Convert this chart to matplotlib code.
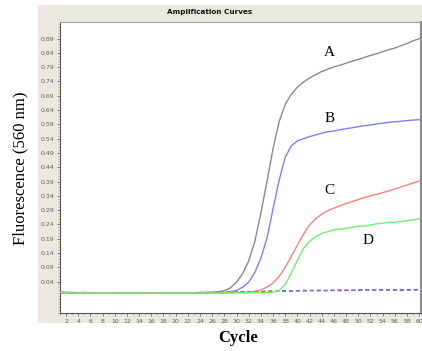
import matplotlib
matplotlib.use("Agg")
import matplotlib.pyplot as plt
import numpy as np
from matplotlib.patches import Rectangle
from matplotlib.ticker import MultipleLocator

# cycle numbers and fluorescence readings
cycles = list(range(1, 61))

curve_a = [0.003, 0.002, 0.002, 0.001, 0.002, 0.001, 0.000, 0.001, 0.000, 0.000,
           0.001, 0.000, -0.001, 0.000, 0.000, -0.001, 0.000, 0.000, 0.001, 0.000,
           0.000, 0.001, 0.001, 0.002, 0.002, 0.003, 0.004, 0.008, 0.018, 0.038,
           0.068, 0.112, 0.18, 0.28, 0.39, 0.505, 0.60, 0.66, 0.695, 0.72,
           0.738, 0.752, 0.764, 0.775, 0.783, 0.791, 0.797, 0.804, 0.811, 0.817,
           0.824, 0.831, 0.837, 0.844, 0.851, 0.857, 0.865, 0.873, 0.882, 0.89]

curve_b = [0.002, 0.002, 0.001, 0.001, 0.000, 0.001, 0.000, -0.001, 0.000, 0.000,
           -0.001, 0.000, 0.000, -0.001, 0.000, 0.000, 0.000, 0.001, 0.000, 0.000,
           0.000, 0.000, 0.001, 0.000, 0.001, 0.001, 0.002, 0.002, 0.004, 0.009,
           0.02, 0.038, 0.072, 0.122, 0.192, 0.295, 0.395, 0.475, 0.515, 0.532,
           0.54, 0.547, 0.553, 0.559, 0.564, 0.567, 0.571, 0.575, 0.578, 0.582,
           0.585, 0.588, 0.591, 0.594, 0.597, 0.599, 0.601, 0.603, 0.605, 0.606]

curve_c = [0.002, 0.001, 0.001, 0.000, 0.001, 0.000, -0.001, 0.000, 0.000, -0.001,
           0.000, 0.000, 0.000, -0.001, 0.000, 0.001, 0.000, 0.000, 0.000, 0.000,
           -0.001, 0.000, 0.000, 0.000, 0.000, 0.001, 0.000, 0.001, 0.001, 0.001,
           0.002, 0.003, 0.005, 0.011, 0.021, 0.035, 0.058, 0.09, 0.128, 0.168,
           0.206, 0.238, 0.26, 0.276, 0.288, 0.297, 0.305, 0.313, 0.32, 0.327,
           0.334, 0.34, 0.345, 0.351, 0.357, 0.364, 0.371, 0.378, 0.385, 0.392]

curve_d = [0.001, 0.001, 0.000, 0.000, -0.001, 0.000, -0.001, 0.000, 0.000, 0.000,
           -0.001, -0.001, 0.000, 0.000, 0.000, 0.000, -0.001, 0.000, 0.000, 0.000,
           0.000, 0.000, 0.000, -0.001, 0.000, 0.000, 0.000, 0.000, 0.000, 0.001,
           0.000, 0.001, 0.001, 0.001, 0.002, 0.003, 0.008, 0.03, 0.07, 0.115,
           0.156, 0.181, 0.197, 0.208, 0.215, 0.221, 0.223, 0.226, 0.23, 0.233,
           0.235, 0.238, 0.242, 0.244, 0.247, 0.247, 0.25, 0.253, 0.256, 0.26]

neg_1 = [0.001, 0.000, 0.001, 0.000, -0.001, 0.000, 0.000, -0.001, 0.000, 0.000,
         -0.001, 0.000, 0.000, 0.000, 0.001, 0.000, -0.001, 0.000, 0.001, 0.000,
         0.000, 0.001, 0.000, 0.001, 0.002, 0.001, 0.002, 0.003, 0.003, 0.004,
         0.005, 0.004, 0.006, 0.005, 0.006, 0.007, 0.006, 0.008, 0.007, 0.008,
         0.009, 0.008, 0.009, 0.010, 0.008, 0.009, 0.011, 0.010, 0.009, 0.011,
         0.012, 0.010, 0.011, 0.012, 0.010, 0.011, 0.012, 0.011, 0.012, 0.012]

neg_2 = [0.000, 0.001, 0.000, -0.001, 0.000, -0.001, 0.000, 0.000, -0.001, 0.000,
         0.000, -0.001, 0.000, 0.001, 0.000, -0.001, 0.000, 0.000, 0.000, 0.001,
         0.000, 0.000, 0.001, 0.000, 0.001, 0.002, 0.001, 0.002, 0.003, 0.003,
         0.004, 0.005, 0.004, 0.005, 0.006, 0.005, 0.007, 0.006, 0.007, 0.008,
         0.007, 0.009, 0.008, 0.007, 0.009, 0.010, 0.008, 0.009, 0.010, 0.009,
         0.010, 0.011, 0.009, 0.010, 0.011, 0.010, 0.009, 0.011, 0.010, 0.011]

curves = [("A", curve_a, "#8a8a8a"), ("B", curve_b, "#7f7fff"),
          ("C", curve_c, "#ff7f7f"), ("D", curve_d, "#6fef6f")]
y_ticks = [0.04, 0.09, 0.14, 0.19, 0.24, 0.29, 0.34, 0.39, 0.44, 0.49,
           0.54, 0.59, 0.64, 0.69, 0.74, 0.79, 0.84, 0.89]
x_ticks = list(range(2, 61, 2))

W, H = 422, 351
fig = plt.figure(figsize=(W / 100, H / 100), dpi=100)

# beige panel behind the plot, like the instrument software window
panel = Rectangle((38 / W, 1 - 323 / H), (W - 38) / W, (323 - 5) / H,
                  transform=fig.transFigure, facecolor="#ece8df",
                  edgecolor="none", zorder=-1)
fig.add_artist(panel)

ax = fig.add_axes([60 / W, 1 - 313 / H, (421 - 60) / W, (313 - 22) / H])
ax.set_zorder(1)
ax.set_facecolor("white")

for name, vals, col in curves:
    ax.plot(cycles, vals, color=col, linewidth=1.0, zorder=3)

ax.plot(cycles, neg_1, color="#c06080", linewidth=1.0, dashes=(3, 2), zorder=2)
ax.plot(cycles, neg_2, color="#7070d0", linewidth=1.0, dashes=(3, 2), zorder=2)

ax.set_xlim(1, 60.3)
ax.set_ylim(-0.07, 0.948)
ax.set_xticks(x_ticks)
ax.set_xticklabels([str(t) for t in x_ticks])
ax.xaxis.set_minor_locator(MultipleLocator(1))
ax.set_yticks(y_ticks)
ax.set_yticklabels(["%.2f" % t for t in y_ticks])
ax.yaxis.set_minor_locator(MultipleLocator(0.01))
ax.tick_params(axis="both", which="major", labelsize=4.5, labelcolor="#606060",
               color="#666666", length=2.5, width=0.6, pad=1.5)
ax.tick_params(axis="both", which="minor", color="#888888", length=1.2, width=0.4)

ax.spines["left"].set_color("#555555")
ax.spines["bottom"].set_color("#555555")
ax.spines["top"].set_color("#9a9a9a")
ax.spines["right"].set_color("#8a8a8a")
ax.spines["right"].set_linewidth(1.5)

# curve letters
serif = ["Liberation Serif", "DejaVu Serif"]
ax.text(45.3, 0.843, "A", family=serif, fontsize=11, ha="center", va="center")
ax.text(45.3, 0.612, "B", family=serif, fontsize=11, ha="center", va="center")
ax.text(45.3, 0.36, "C", family=serif, fontsize=11, ha="center", va="center")
ax.text(51.6, 0.185, "D", family=serif, fontsize=11, ha="center", va="center")

fig.text(210 / W, 1 - 12 / H, "Amplification Curves", fontsize=5.2,
         fontweight="bold", ha="center", va="center", color="#111111")
fig.text(20 / W, 1 - 168 / H, "Fluorescence (560 nm)", family=serif,
         fontsize=12, rotation=90, ha="center", va="center")
fig.text(238 / W, 1 - 338 / H, "Cycle", family=serif, fontsize=12,
         fontweight="bold", ha="center", va="center")

fig.savefig("out.png", dpi=100)
